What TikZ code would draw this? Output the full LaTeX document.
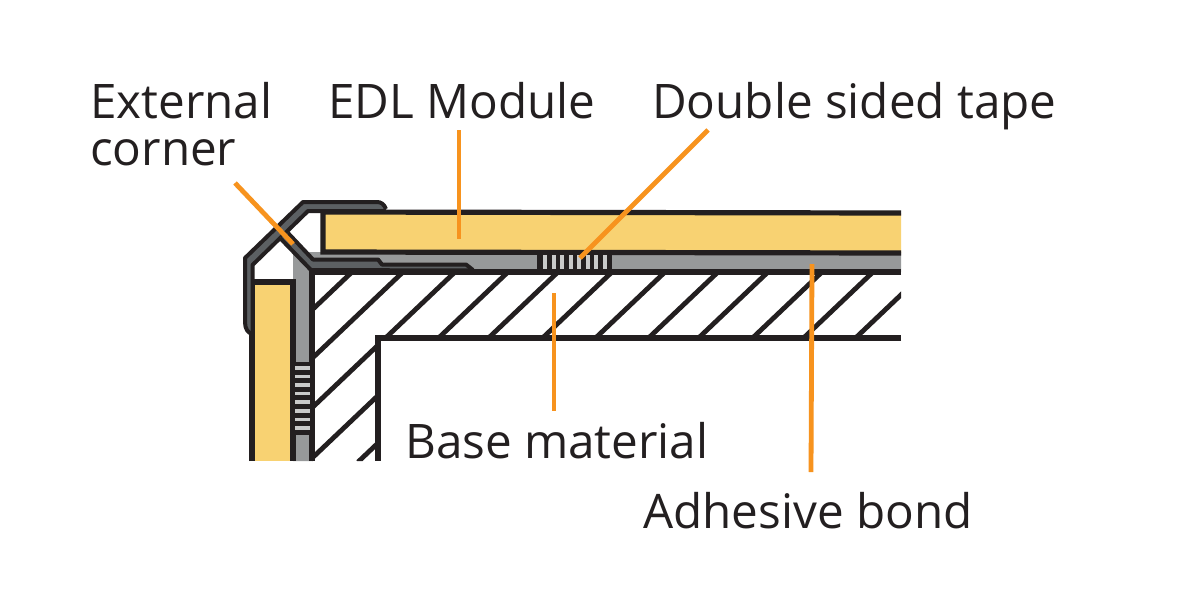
\documentclass[tikz,border=0pt]{standalone}
\usepackage{fontspec}
\setmainfont{Open Sans}
\definecolor{ink}{HTML}{231F20}
\definecolor{panel}{HTML}{F8D272}
\definecolor{glue}{HTML}{97999A}
\definecolor{tapebar}{HTML}{C9CACA}
\definecolor{clipfill}{HTML}{5C6063}
\definecolor{lead}{HTML}{F7931E}
\tikzset{
  outline/.style={draw=ink,line width=5.2pt,line join=miter},
  clipline/.style={draw=ink,line width=4pt,line join=round},
  hatchline/.style={draw=ink,line width=4.8pt},
  leader/.style={draw=lead,line width=4.8pt},
  lab/.style={anchor=base west,inner sep=0pt,text=ink,font=\fontsize{47.6}{50}\selectfont},
  bar/.style={fill=tapebar,draw=none}
}
\begin{document}
\begin{tikzpicture}[x=1pt,y=-1pt]
\useasboundingbox (0,0) rectangle (1202,606);
\fill[white] (0,0) rectangle (1202,606);
% adhesive layers
\fill[glue] (293,461) -- (293,252) -- (901,252) -- (901,272) -- (312,272) -- (312,461) -- cycle;
% panels
\fill[panel] (323,212) -- (901,213) -- (901,253) -- (323,252) -- cycle;
\draw[outline] (901,213) -- (323,212) -- (323,252) -- (901,253);
\fill[panel] (254,282) rectangle (292,461);
\draw[outline] (252,461) -- (252,282) -- (293,282) -- (293,461);
% base material
\begin{scope}
\clip (312,272) -- (901,272) -- (901,338) -- (378,338) -- (378,461) -- (312,461) -- cycle;
\foreach \t in {352,403,455,508,558,612,665,718,768,822,873,925}{
  \draw[hatchline] (\t,272) -- ++(-200,190);
}
\end{scope}
\draw[outline] (901,272) -- (312,272) (312,266) -- (312,461);
\draw[outline] (901,338) -- (378,338) -- (378,461);
% corner clip
\path[fill=clipfill] (386,209) .. controls (384,204) and (381,202) .. (377,202) -- (303,202) -- (245,258) -- (245,322) .. controls (245,329) and (248,333) .. (252.5,334) -- (252.5,265) -- (308,211) -- (386,211) -- cycle;
\draw[clipline] (386,209) .. controls (384,204) and (381,202) .. (377,202) -- (303,202) -- (245,258) -- (245,322) .. controls (245,329) and (248,333) .. (252.5,334);
\draw[clipline] (252.5,335) -- (252.5,265) -- (308,211) -- (386,211);
\path[fill=clipfill] (288,233) -- (313,259) -- (378,259) -- (382,264) -- (466,264) -- (473,270) -- (311,270) -- (280,238) -- cycle;
\draw[clipline] (288,233) -- (313,259.5) -- (378,259.5) -- (382,264.5) -- (466,264.5) -- (473,270);
\draw[clipline] (280,238) -- (311,270) -- (473,270.5);
% horizontal tape
\fill[ink] (537,252) rectangle (612,274);
\foreach \i in {0,...,7}{\fill[bar] (543+8.55*\i,255) rectangle ++(4,13.5);}
% vertical tape
\fill[ink] (291,362) rectangle (314,435);
\foreach \i in {0,...,7}{\fill[bar] (295,366+8.6*\i) rectangle ++(14.5,3.6);}
% labels
\node[lab] (ext) at (90,118) {External};
\node[lab] (cor) at (90,165) {corner};
\node[lab] (edl) at (328,118) {EDL Module};
\node[lab] (dst) at (652,118) {Double sided tape};
\node[lab] (bas) at (405,458) {Base material};
\node[lab] (adh) at (643,528) {Adhesive bond};
% leaders
\coordinate (a0) at (235,183); \coordinate (a1) at (293,244);
\coordinate (b0) at (459,130); \coordinate (b1) at (459,239);
\coordinate (c0) at (708,130); \coordinate (c1) at (580,258);
\coordinate (d0) at (554,293); \coordinate (d1) at (554,411);
\coordinate (e0) at (812,264); \coordinate (e1) at (811,472);
\draw[leader] (a0) -- (a1);
\draw[leader] (b0) -- (b1);
\draw[leader] (c0) -- (c1);
\draw[leader] (d0) -- (d1);
\draw[leader] (e0) -- (e1);
\end{tikzpicture}
\end{document}
